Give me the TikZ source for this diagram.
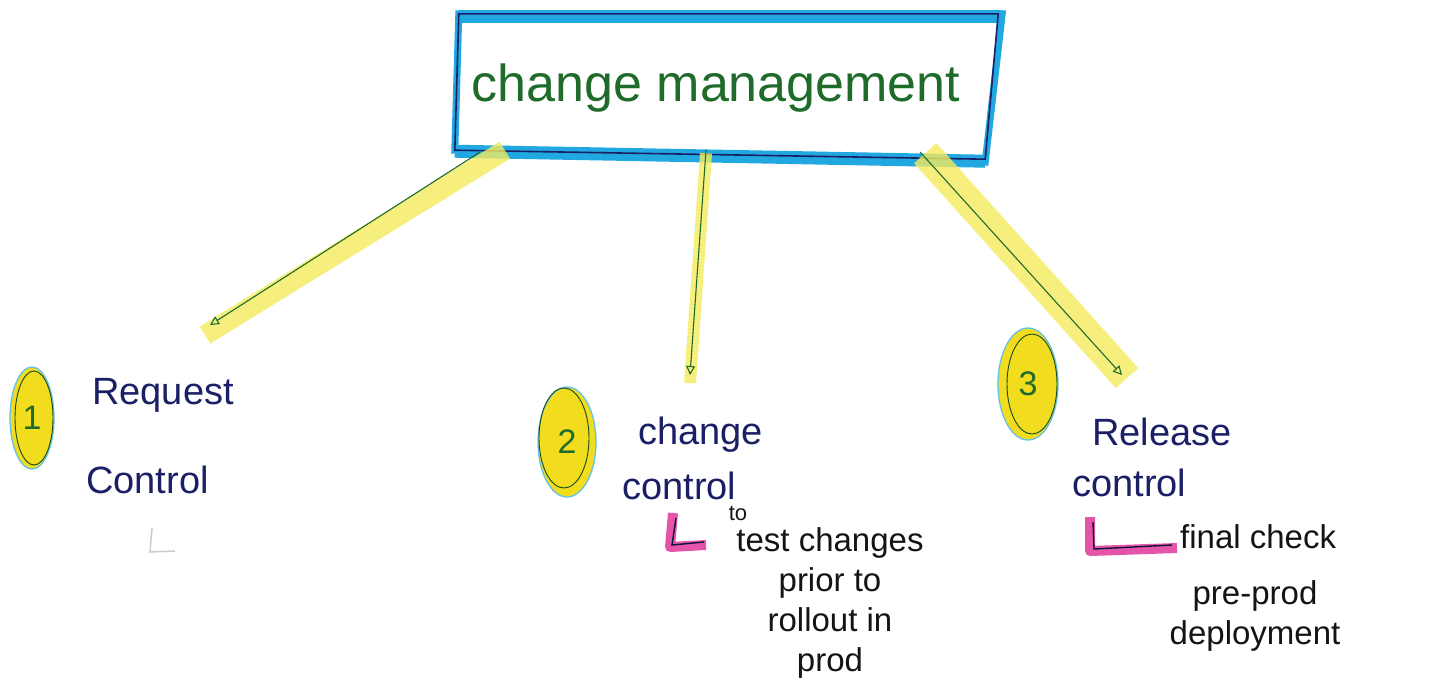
\documentclass[tikz,border=0pt]{standalone}
\usepackage{fontspec}
\setmainfont{Liberation Sans}
\usetikzlibrary{arrows.meta,calc,shapes.geometric}
\definecolor{hlyellow}{HTML}{F4EC5E}
\definecolor{dotyellow}{HTML}{F1DC1E}
\definecolor{boxcyan}{HTML}{22A8E0}
\definecolor{pengreen}{HTML}{1E6B2A}
\definecolor{pennavy}{HTML}{1A1F66}
\definecolor{penblack}{HTML}{141414}
\definecolor{hlpink}{HTML}{E0379B}
\tikzset{
  band/.style={line width=#1, hlyellow, line cap=butt, opacity=0.8},
  conn/.style={pengreen, line width=1.1, -{Triangle[open,length=9pt,width=9pt]}},
  numdot/.style={ellipse, fill=dotyellow, draw=boxcyan!70, line width=1.3, inner sep=0pt,
                 text=pengreen, font=\fontsize{34}{34}\selectfont},
  lbl/.style={text=pennavy, font=\fontsize{38}{44}\selectfont, align=left, inner sep=0pt},
  note/.style={text=penblack, font=\fontsize{33}{40}\selectfont, align=center, inner sep=0pt},
  pinkmark/.style={hlpink, line width=10, line cap=butt, line join=round, opacity=0.85},
  penmark/.style={pennavy!60!black, line width=1.4}
}
\begin{document}
\begin{tikzpicture}[x=1pt,y=-1pt]
\useasboundingbox (0,0) rectangle (1446,694);
\fill[white] (0,0) rectangle (1446,694);

% top box
\node[minimum width=530, minimum height=140, inner sep=0pt] (cm) at (722,85) {};
\coordinate (tl) at ($(cm.north west)+(2,-1)$);
\coordinate (tr) at ($(cm.north east)+(15,-1)$);
\coordinate (br) at ($(cm.south east)+(-2,7)$);
\coordinate (bl) at ($(cm.south west)+(-2,-5)$);
\draw[boxcyan, line width=7, line join=miter] (tl) -- (tr) -- (br) -- (bl) -- cycle;
\draw[boxcyan, line width=13, line cap=butt] ($(tl)+(0,3)$) -- ($(tr)+(0,3)$);
\draw[boxcyan, line width=13, line cap=butt] ($(bl)+(0,1)$) -- ($(br)+(0,-1)$);
\draw[pennavy, line width=1.6] (tl) -- ($(tr)+(-4,0)$) -- ($(br)+(0,-3)$) -- ($(bl)+(0,0)$) -- cycle;
\node[text=pengreen, font=\fontsize{52}{52}\selectfont] (title) at (716,88) {change management};

% endpoints of connectors
\coordinate (a1) at (210,325);
\coordinate (a2) at (690,375);
\coordinate (a3) at (1122,375);

% yellow highlight bands
\draw[band=20] ($(cm.south west)+(48,-5)$) -- ($(a1)+(-5,10)$);
\draw[band=12] ($(cm.south)+(-16,-2)$) -- ($(a2)+(0,8)$);
\draw[band=30] ($(cm.south east)+(-62,-2)$) -- ($(a3)+(5,3)$);

% connectors
\draw[conn] ($(cm.south west)+(23,-3)$) -- (a1);
\draw[conn] ($(cm.south)+(-16,-5)$) -- (a2);
\draw[conn] ($(cm.south east)+(-67,-3)$) -- (a3);

% numbered dots
\node[numdot, minimum width=44, minimum height=102] (c1) at (32,418) {1};
\draw[pengreen!70!black, line width=0.9] ([xshift=2]c1.center) ellipse (19 and 47);
\node[numdot, minimum width=58, minimum height=110] (c2) at (567,442) {2};
\draw[pengreen!70!black, line width=0.9] ([xshift=-3,yshift=4]c2.center) ellipse (25 and 50);
\node[numdot, minimum width=60, minimum height=112] (c3) at (1028,384) {3};
\draw[pengreen!70!black, line width=0.9] ([xshift=4]c3.center) ellipse (25 and 50);

% labels
\node[lbl, anchor=west] (l1a) at (92,395) {Request};
\node[lbl, anchor=west] (l1b) at (86,480) {Control};
\node[lbl, anchor=west] (l2a) at (638,435) {change};
\node[lbl, anchor=west] (l2b) at (622,486) {control};
\node[lbl, anchor=west] (l3a) at (1092,432) {Release};
\node[lbl, anchor=west] (l3b) at (1072,483) {control};

% faint mark under Request Control
\draw[gray!40, line width=1.5] (152,528) -- (150,552) -- (175,551);

% pink markers
\draw[pinkmark] (673,513) -- (670,547) -- (706,545);
\draw[penmark] (676,518) -- (672,545) -- (704,542);
\draw[pinkmark] (1090,517) -- (1090,551) -- (1177,548);
\draw[penmark] (1093,522) -- (1094,549) -- (1172,545);

% notes
\node[text=penblack, font=\fontsize{22}{22}\selectfont, inner sep=0pt] (to) at (738,513) {to};
\node[note, anchor=north] (n2) at (830,527) {test changes\\prior to\\rollout in\\prod};
\node[note, anchor=north west] (n3a) at (1180,524) {final check};
\node[note, anchor=north] (n3b) at (1255,580) {pre-prod\\deployment};
\end{tikzpicture}
\end{document}
